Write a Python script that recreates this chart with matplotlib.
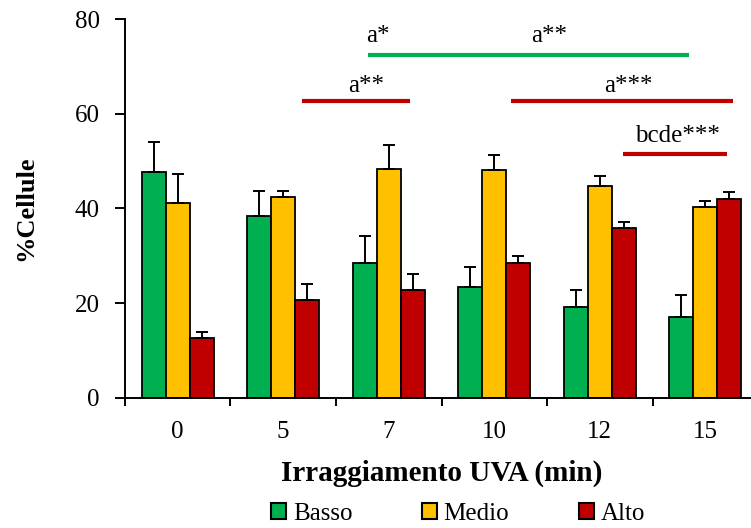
import matplotlib
matplotlib.use("Agg")
import matplotlib.pyplot as plt
import numpy as np
from matplotlib.patches import Patch

categories = ["0", "5", "7", "10", "12", "15"]
series_names = ["Basso", "Medio", "Alto"]
basso = [47.6, 38.3, 28.5, 23.3, 19.1, 17.1]
basso_err = [6.5, 5.3, 5.7, 4.4, 3.7, 4.5]
medio = [41.2, 42.3, 48.4, 48.1, 44.8, 40.3]
medio_err = [6.1, 1.3, 5.0, 3.2, 2.1, 1.2]
alto = [12.6, 20.7, 22.8, 28.5, 35.8, 41.9]
alto_err = [1.3, 3.3, 3.3, 1.5, 1.3, 1.6]
colors = ["#00B050", "#FFC000", "#C00000"]

# significance annotations: (x_start, x_end, y, color)
sig_lines = [(1.80, 4.85, 72.3, "#00B050"),
             (1.18, 2.20, 62.6, "#C00000"),
             (3.16, 5.26, 62.6, "#C00000"),
             (4.22, 5.21, 51.5, "#C00000")]
sig_texts = [("a*", 1.90, 75.2), ("a**", 3.52, 75.2),
             ("a**", 1.79, 64.6), ("a***", 4.27, 64.6),
             ("bcde***", 4.74, 54.0)]

plt.rcParams['font.family'] = ['Liberation Serif', 'DejaVu Serif']

fig = plt.figure(figsize=(7.51, 5.28), dpi=100)
ax = fig.add_axes([0.1664, 0.2468, 0.843, 0.7172])

x = np.arange(len(categories))
w = 0.227
for i, (vals, errs) in enumerate([(basso, basso_err), (medio, medio_err), (alto, alto_err)]):
    pos = x + (i - 1) * w
    ax.bar(pos, vals, width=w, color=colors[i], edgecolor="black", linewidth=1.3, zorder=2)
    ax.errorbar(pos, vals, yerr=[np.zeros(len(errs)), errs], fmt="none",
                ecolor="black", elinewidth=1.4, capsize=4.5, capthick=1.4, zorder=3)

for x0, x1, y, c in sig_lines:
    ax.plot([x0, x1], [y, y], color=c, linewidth=3, solid_capstyle="butt", zorder=4)
for t, xx, yy in sig_texts:
    ax.text(xx, yy, t, ha="center", va="baseline", fontsize=18)

ax.set_xlim(-0.5, 5.5)
ax.set_ylim(0, 80)
ax.set_yticks([0, 20, 40, 60, 80])
ax.set_xticks(x)
ax.set_xticklabels(categories)
ax.set_xticks(np.arange(-0.5, 5.6, 1.0), minor=True)
ax.tick_params(axis="x", which="major", length=0, pad=17, labelsize=18)
ax.tick_params(axis="x", which="minor", length=6, width=1.4, direction="out")
ax.tick_params(axis="y", length=7, width=1.4, direction="out", labelsize=18, pad=11)
ax.spines["top"].set_visible(False)
ax.spines["right"].set_visible(False)
ax.spines["left"].set_linewidth(1.4)
ax.spines["bottom"].set_linewidth(1.4)

ax.set_xlabel("Irraggiamento UVA (min)", fontsize=21, fontweight="bold", labelpad=12)
ax.set_ylabel("%Cellule", fontsize=19, fontweight="bold", labelpad=27)

handles = [Patch(facecolor=c, edgecolor="black", linewidth=1.5) for c in colors]
fig.legend(handles, series_names, loc="lower center", bbox_to_anchor=(0.61, -0.036),
           ncol=3, frameon=False, fontsize=18, handlelength=0.6, handleheight=0.6,
           handletextpad=0.25, columnspacing=2.8)

fig.savefig("out.png", dpi=100)
